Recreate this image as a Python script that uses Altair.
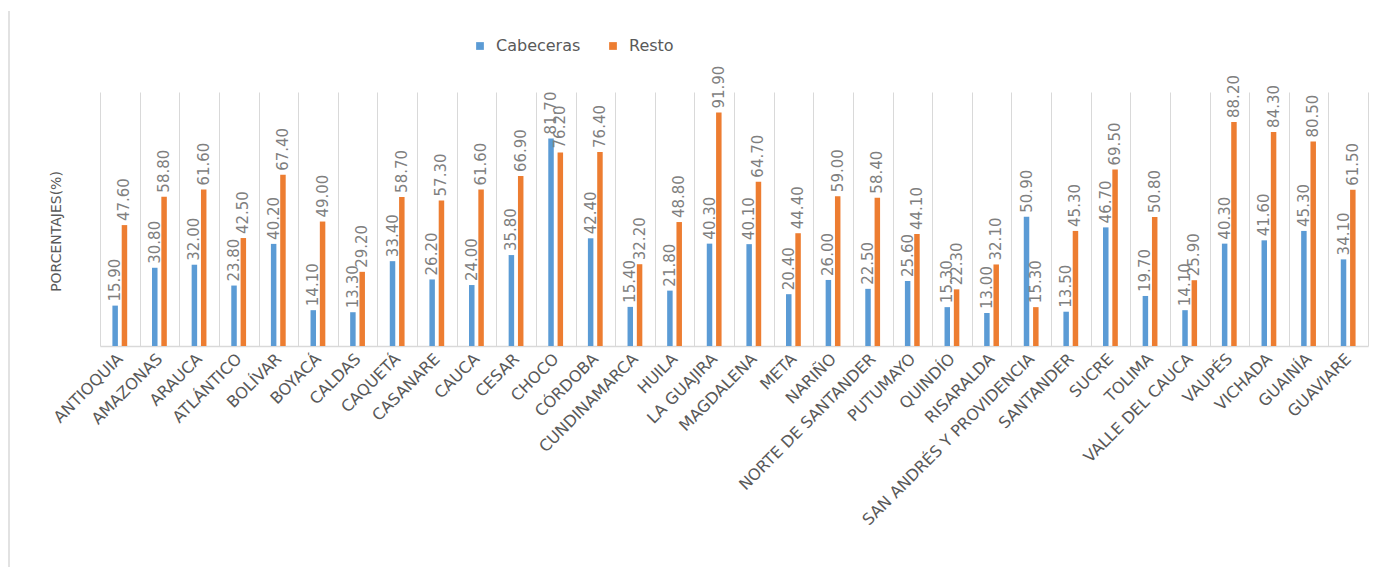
import altair as alt
import pandas as pd

departamentos = ["ANTIOQUIA", "AMAZONAS", "ARAUCA", "ATLÁNTICO", "BOLÍVAR", "BOYACÁ", "CALDAS",
                 "CAQUETÁ", "CASANARE", "CAUCA", "CESAR", "CHOCO", "CÓRDOBA", "CUNDINAMARCA",
                 "HUILA", "LA GUAJIRA", "MAGDALENA", "META", "NARIÑO", "NORTE DE SANTANDER",
                 "PUTUMAYO", "QUINDÍO", "RISARALDA", "SAN ANDRÉS Y PROVIDENCIA", "SANTANDER",
                 "SUCRE", "TOLIMA", "VALLE DEL CAUCA", "VAUPÉS", "VICHADA", "GUAINÍA", "GUAVIARE"]
cabeceras = [15.90, 30.80, 32.00, 23.80, 40.20, 14.10, 13.30, 33.40, 26.20, 24.00, 35.80, 81.70,
             42.40, 15.40, 21.80, 40.30, 40.10, 20.40, 26.00, 22.50, 25.60, 15.30, 13.00, 50.90,
             13.50, 46.70, 19.70, 14.10, 40.30, 41.60, 45.30, 34.10]
resto = [47.60, 58.80, 61.60, 42.50, 67.40, 49.00, 29.20, 58.70, 57.30, 61.60, 66.90, 76.20,
         76.40, 32.20, 48.80, 91.90, 64.70, 44.40, 59.00, 58.40, 44.10, 22.30, 32.10, 15.30,
         45.30, 69.50, 50.80, 25.90, 88.20, 84.30, 80.50, 61.50]
series = ["Cabeceras", "Resto"]
colores = ["#5B9BD5", "#ED7D31"]

rows = []
for d, c, r in zip(departamentos, cabeceras, resto):
    rows.append({"dep": d, "serie": "Cabeceras", "valor": c})
    rows.append({"dep": d, "serie": "Resto", "valor": r})
df = pd.DataFrame(rows)

gray = "#595959"
font = "DejaVu Sans"

x = alt.X("dep:N", sort=departamentos, title=None,
          scale=alt.Scale(paddingInner=0, paddingOuter=0),
          axis=alt.Axis(labelAngle=315, labelAlign="right", labelBaseline="middle",
                        labelFontSize=16, labelColor=gray, labelFont=font, labelPadding=10,
                        labelLimit=0, ticks=False, grid=True, gridColor="#d9d9d9",
                        tickBand="extent", domainColor="#d9d9d9", domainWidth=1.5,
                        labelOverlap=False))
xo = alt.XOffset("serie:N", sort=series,
                 scale=alt.Scale(paddingInner=0.41, paddingOuter=0, range=[12.4, 27.2]))
y = alt.Y("valor:Q", scale=alt.Scale(domain=[0, 100], nice=False),
          axis=alt.Axis(title="PORCENTAJES(%)", labels=False, ticks=False, domain=False,
                        grid=False, titleFontSize=14, titleColor=gray, titleFont=font,
                        titleFontWeight="normal", titleX=-37, titleY=139))
color = alt.Color("serie:N", sort=series,
                  scale=alt.Scale(domain=series, range=colores),
                  legend=alt.Legend(title=None, orient="none", direction="horizontal",
                                    legendX=372, legendY=-54, symbolType="square",
                                    symbolSize=60, labelFontSize=16, labelColor=gray,
                                    labelFont=font, labelOffset=8, columnPadding=24,
                                    symbolStrokeWidth=0))

base = alt.Chart(df).encode(x=x, xOffset=xo, y=y)
bars = base.mark_bar().encode(color=color)
labels = base.mark_text(angle=270, align="left", baseline="middle", dx=4,
                        fontSize=15, font=font, color="#7f7f7f").encode(
    text=alt.Text("valor:Q", format=".2f"))

frame = alt.Chart(pd.DataFrame({"a": [0]})).mark_rule(color="#d9d9d9", strokeWidth=1.5).encode(
    x=alt.value(-91), y=alt.value(-81), y2=alt.value(475))

chart = alt.layer(frame, bars, labels).properties(
    width=1268, height=254,
    background="white",
    autosize=alt.AutoSizeParams(type="none"),
    padding={"left": 100, "top": 92, "right": 16, "bottom": 221},
).configure_view(stroke="transparent", strokeWidth=0)

chart.save("out.html", embed_options={"renderer": "svg", "actions": False})
